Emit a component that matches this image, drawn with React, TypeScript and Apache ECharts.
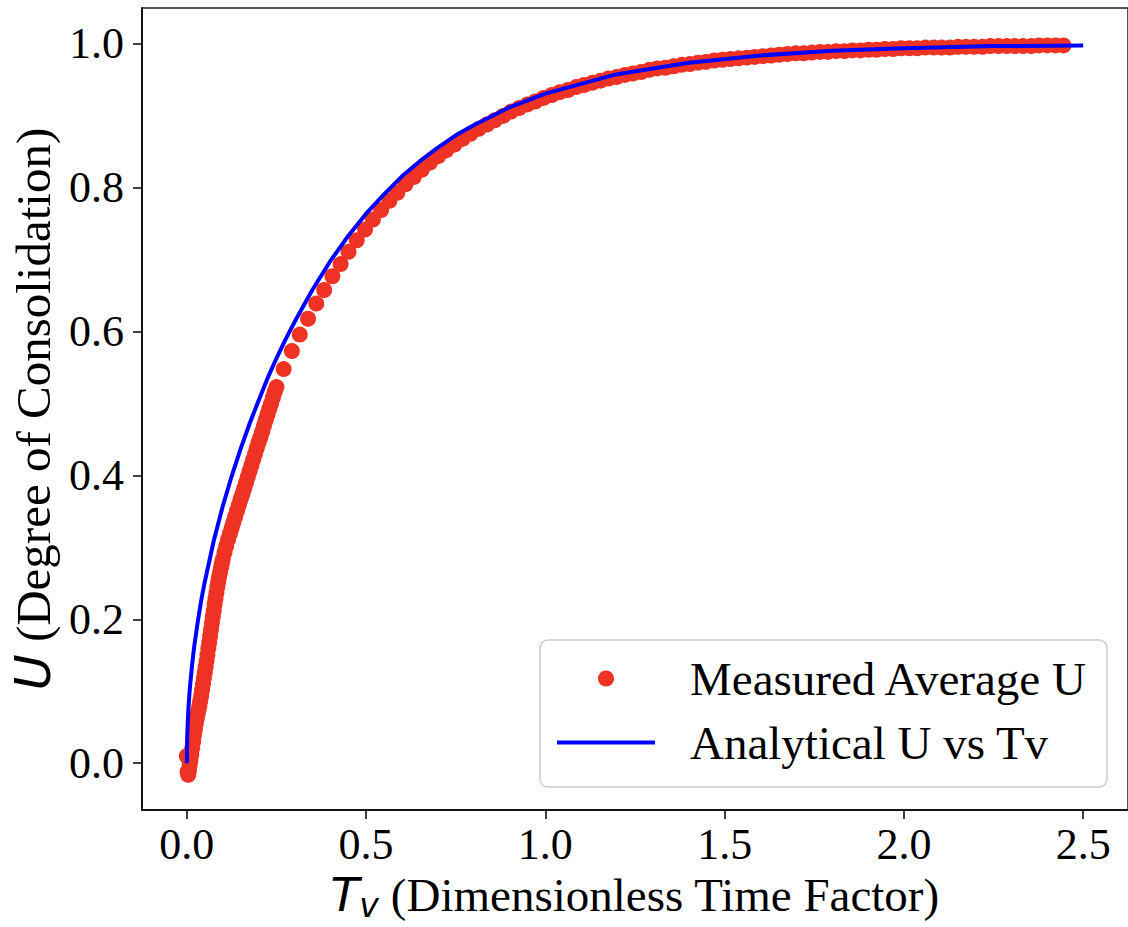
import React, { useEffect, useRef } from "react";
import * as echarts from "echarts";

const measuredTv = [
  0.0, 0.002, 0.004, 0.006, 0.008,
  0.01, 0.0125, 0.015, 0.0175, 0.02, 0.0225, 0.025, 0.0275, 0.03, 0.0325, 0.035, 0.0375,
  0.04, 0.0425, 0.045, 0.0475, 0.05, 0.0525, 0.055, 0.0575, 0.06, 0.0625, 0.065, 0.0675,
  0.07, 0.0725, 0.075, 0.0775, 0.08, 0.0825, 0.085, 0.0875, 0.09, 0.0925, 0.095, 0.0975, 0.1,
  0.105, 0.11, 0.115, 0.12, 0.125, 0.13, 0.135, 0.14, 0.145, 0.15, 0.155, 0.16, 0.165,
  0.17, 0.175, 0.18, 0.185, 0.19, 0.195, 0.2, 0.205, 0.21, 0.215, 0.22, 0.225, 0.23, 0.235,
  0.24, 0.245, 0.25,
  0.27, 0.293, 0.315, 0.338, 0.361, 0.383, 0.406, 0.429, 0.451, 0.474, 0.497, 0.519, 0.542,
  0.565, 0.587, 0.61, 0.633, 0.655, 0.678, 0.701, 0.723, 0.746, 0.769, 0.791, 0.814, 0.837,
  0.859, 0.882, 0.904, 0.927, 0.95, 0.972, 0.995, 1.018, 1.04, 1.063, 1.086, 1.108, 1.131,
  1.154, 1.176, 1.199, 1.222, 1.244, 1.267, 1.29, 1.312, 1.335, 1.358, 1.38, 1.403, 1.426,
  1.448, 1.471, 1.494, 1.516, 1.539, 1.562, 1.584, 1.607, 1.63, 1.652, 1.675, 1.698, 1.72,
  1.743, 1.766, 1.788, 1.811, 1.834, 1.856, 1.879, 1.902, 1.924, 1.947, 1.97, 1.992, 2.015,
  2.037, 2.06, 2.083, 2.105, 2.128, 2.151, 2.173, 2.196, 2.219, 2.241, 2.264, 2.287, 2.309,
  2.332, 2.355, 2.377, 2.4, 2.423, 2.445,
];
const measuredU = [
  0.01, -0.012, -0.016, -0.01, -0.002,
  0.004, 0.012, 0.021, 0.03, 0.039, 0.047, 0.055, 0.062, 0.068, 0.074, 0.08, 0.087,
  0.094, 0.102, 0.11, 0.118, 0.126, 0.134, 0.142, 0.151, 0.16, 0.168, 0.177, 0.186,
  0.195, 0.204, 0.212, 0.221, 0.229, 0.237, 0.245, 0.252, 0.259, 0.265, 0.271, 0.277, 0.283,
  0.293, 0.302, 0.311, 0.319, 0.327, 0.335, 0.343, 0.351, 0.359, 0.367, 0.374, 0.382, 0.39,
  0.398, 0.406, 0.414, 0.422, 0.43, 0.438, 0.446, 0.453, 0.461, 0.469, 0.477, 0.485, 0.493, 0.5,
  0.508, 0.516, 0.523,
  0.548, 0.573, 0.596, 0.618, 0.639, 0.658, 0.677, 0.694, 0.711, 0.727, 0.742, 0.756, 0.769,
  0.782, 0.793, 0.805, 0.815, 0.825, 0.835, 0.844, 0.852, 0.86, 0.868, 0.875, 0.882, 0.888,
  0.894, 0.9, 0.906, 0.911, 0.916, 0.92, 0.925, 0.929, 0.933, 0.936, 0.94, 0.943, 0.946,
  0.949, 0.952, 0.954, 0.957, 0.959, 0.961, 0.964, 0.966, 0.967, 0.969, 0.971, 0.972, 0.974,
  0.975, 0.977, 0.978, 0.979, 0.98, 0.981, 0.982, 0.983, 0.984, 0.985, 0.986, 0.987, 0.987,
  0.988, 0.989, 0.989, 0.99, 0.99, 0.991, 0.991, 0.992, 0.992, 0.993, 0.993, 0.994, 0.994,
  0.994, 0.995, 0.995, 0.995, 0.995, 0.996, 0.996, 0.996, 0.996, 0.997, 0.997, 0.997, 0.997,
  0.997, 0.997, 0.998, 0.998, 0.998, 0.998,
];

// ---- Analytical curve ----
const analyticalTv = [
  0, 0.001, 0.0025, 0.005, 0.0075, 0.01, 0.015, 0.02, 0.03, 0.04, 0.05, 0.075, 0.1, 0.125,
  0.15, 0.175, 0.2, 0.225, 0.25, 0.275, 0.3, 0.35, 0.4, 0.45, 0.5, 0.55, 0.6, 0.65, 0.7,
  0.75, 0.8, 0.9, 1.0, 1.2, 1.4, 1.6, 1.8, 2.0, 2.25, 2.5,
];
const analyticalU = [
  0, 0.036, 0.056, 0.08, 0.098, 0.113, 0.138, 0.16, 0.195, 0.226, 0.252, 0.309, 0.357, 0.399,
  0.437, 0.472, 0.504, 0.535, 0.563, 0.589, 0.613, 0.658, 0.698, 0.733, 0.764, 0.791, 0.816,
  0.837, 0.856, 0.873, 0.887, 0.912, 0.931, 0.958, 0.974, 0.984, 0.9905, 0.994, 0.997, 0.998,
];

const xTicks = [0, 0.5, 1.0, 1.5, 2.0, 2.5];
const yTicks = [0, 0.2, 0.4, 0.6, 0.8, 1.0];

const SERIF = "'Liberation Serif', 'Times New Roman', serif";
const SANS = "'DejaVu Sans', sans-serif";
const RED = "#EE3324";
const BLUE = "#0000FF";

export default function App() {
  const ref = useRef<HTMLDivElement>(null);

  useEffect(() => {
    if (!ref.current) return;
    const chart = echarts.init(ref.current, null, { renderer: "svg" });
    const measured = measuredTv.map((t, i) => [t, measuredU[i]]);
    const analytical = analyticalTv.map((t, i) => [t, analyticalU[i]]);

    chart.setOption({
      animation: false,
      backgroundColor: "#ffffff",
      grid: {
        left: 142,
        top: 8,
        width: 988,
        height: 802,
        show: true,
        borderColor: "#1a1a1a",
        borderWidth: 1.5,
        backgroundColor: "transparent",
      },
      graphic: [
        {
          type: "rect",
          z: 10,
          shape: { x: 540, y: 640, width: 567, height: 147, r: 8 },
          style: { fill: "rgba(255,255,255,0.85)", stroke: "#cccccc", lineWidth: 1.5 },
        },
      ],
      legend: [
        {
          orient: "vertical",
          left: 598,
          top: 655,
          padding: 0,
          z: 20,
          itemWidth: 16,
          itemHeight: 16,
          itemGap: 0,
          textStyle: {
            fontFamily: SERIF,
            fontSize: 47,
            color: "#000",
            padding: [0, 0, 0, 71],
          },
          data: [{ name: "Measured Average U", icon: "circle" }],
        },
        {
          orient: "vertical",
          left: 557,
          top: 719,
          padding: 0,
          z: 20,
          itemWidth: 98,
          itemHeight: 4,
          textStyle: {
            fontFamily: SERIF,
            fontSize: 47,
            color: "#000",
            padding: [0, 0, 0, 30],
          },
          data: [{ name: "Analytical U vs Tv", icon: "rect" }],
        },
      ],
      xAxis: {
        type: "value",
        min: -0.125,
        max: 2.625,
        splitLine: { show: false },
        axisLine: { onZero: false, lineStyle: { color: "#000", width: 1.5 } },
        axisTick: {
          customValues: xTicks,
          length: 9,
          lineStyle: { color: "#000", width: 1.5 },
        },
        axisLabel: {
          customValues: xTicks,
          formatter: (v: number) => v.toFixed(1),
          fontFamily: SERIF,
          fontSize: 44,
          color: "#000",
          margin: 12,
        },
        name: "{i|T}{s|v}{n| (Dimensionless Time Factor)}",
        nameLocation: "middle",
        nameGap: 57,
        nameTextStyle: {
          rich: {
            i: { fontFamily: SANS, fontStyle: "italic", fontSize: 47, color: "#000" },
            s: {
              fontFamily: SANS,
              fontStyle: "italic",
              fontSize: 33,
              color: "#000",
              padding: [22, 0, 0, 0],
            },
            n: { fontFamily: SERIF, fontSize: 47, color: "#000" },
          },
        },
      },
      yAxis: {
        type: "value",
        min: -0.065,
        max: 1.05,
        splitLine: { show: false },
        axisLine: { onZero: false, lineStyle: { color: "#000", width: 1.5 } },
        axisTick: {
          customValues: yTicks,
          length: 9,
          lineStyle: { color: "#000", width: 1.5 },
        },
        axisLabel: {
          customValues: yTicks,
          formatter: (v: number) => v.toFixed(1),
          fontFamily: SERIF,
          fontSize: 44,
          color: "#000",
          margin: 18,
        },
        name: "{i|U}{n| (Degree of Consolidation)}",
        nameLocation: "middle",
        nameGap: 83,
        nameRotate: 90,
        nameTextStyle: {
          rich: {
            i: { fontFamily: SANS, fontStyle: "italic", fontSize: 49, color: "#000" },
            n: { fontFamily: SERIF, fontSize: 49, color: "#000" },
          },
        },
      },
      series: [
        {
          name: "Measured Average U",
          type: "scatter",
          data: measured,
          symbol: "circle",
          symbolSize: 16,
          itemStyle: { color: RED, opacity: 1 },
          z: 2,
        },
        {
          name: "Analytical U vs Tv",
          type: "line",
          data: analytical,
          symbol: "none",
          showSymbol: false,
          lineStyle: { color: BLUE, width: 4 },
          itemStyle: { color: BLUE },
          z: 3,
        },
      ],
    });

    return () => chart.dispose();
  }, []);

  return (
    <div
      ref={ref}
      style={{ position: "fixed", left: 0, top: 0, width: 1128, height: 927, background: "#fff" }}
    />
  );
}
